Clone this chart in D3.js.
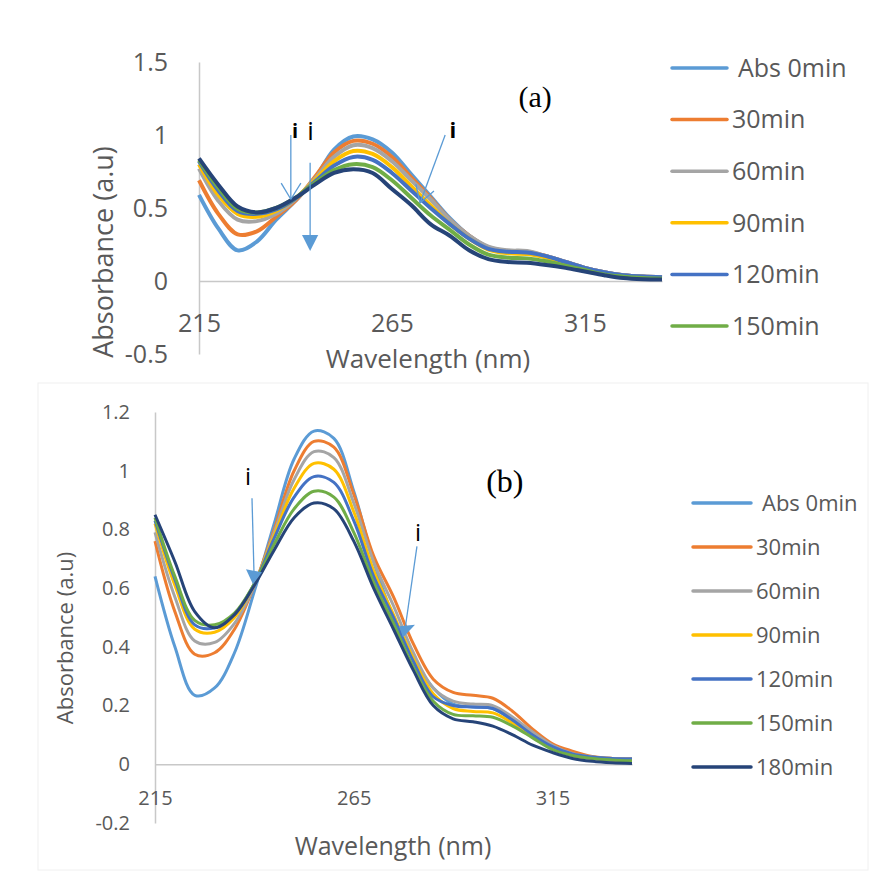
<!DOCTYPE html>
<html>
<head>
<meta charset="utf-8">
<script src="https://cdn.jsdelivr.net/npm/d3@7/dist/d3.min.js"></script>
<style>
  body { margin: 0; background: #fff; }
  svg { display: block; }
  text { font-family: "Open Sans", "DejaVu Sans", sans-serif; }
</style>
</head>
<body>
<div id="chart"></div>
<script>
// ---- data ----
var wavelengths = [215, 220, 225, 230, 235, 240, 245, 250, 255, 260, 265, 270, 275,
                   280, 285, 290, 295, 300, 305, 310, 315, 320, 325, 330, 335];

var seriesNames = ["Abs 0min", "30min", "60min", "90min", "120min", "150min", "180min"];
var seriesColors = ["#5b9bd5", "#ed7d31", "#a5a5a5", "#ffc000", "#4472c4", "#70ad47", "#264478"];

// panel (a)
var a0   = [0.59, 0.36, 0.21, 0.27, 0.42, 0.55, 0.70, 0.90, 0.99, 0.97, 0.88, 0.73, 0.58, 0.43, 0.31, 0.23, 0.20, 0.195, 0.17, 0.13, 0.09, 0.06, 0.04, 0.03, 0.025];
var a30  = [0.69, 0.46, 0.32, 0.34, 0.44, 0.55, 0.71, 0.88, 0.96, 0.94, 0.85, 0.71, 0.57, 0.42, 0.31, 0.23, 0.205, 0.20, 0.17, 0.13, 0.09, 0.06, 0.04, 0.03, 0.025];
var a60  = [0.77, 0.55, 0.42, 0.41, 0.46, 0.56, 0.70, 0.85, 0.93, 0.91, 0.82, 0.69, 0.56, 0.42, 0.31, 0.235, 0.21, 0.205, 0.17, 0.13, 0.09, 0.06, 0.04, 0.03, 0.025];
var a90  = [0.80, 0.59, 0.46, 0.44, 0.48, 0.565, 0.69, 0.82, 0.89, 0.87, 0.78, 0.65, 0.52, 0.39, 0.29, 0.215, 0.19, 0.185, 0.16, 0.12, 0.085, 0.055, 0.035, 0.025, 0.02];
var a120 = [0.82, 0.62, 0.48, 0.46, 0.49, 0.565, 0.68, 0.79, 0.85, 0.83, 0.74, 0.62, 0.50, 0.39, 0.29, 0.22, 0.20, 0.195, 0.17, 0.13, 0.09, 0.06, 0.04, 0.03, 0.025];
var a150 = [0.83, 0.64, 0.495, 0.47, 0.50, 0.57, 0.67, 0.76, 0.80, 0.78, 0.69, 0.57, 0.45, 0.35, 0.25, 0.18, 0.16, 0.155, 0.135, 0.105, 0.075, 0.045, 0.03, 0.02, 0.015];
var a180 = [0.84, 0.66, 0.51, 0.47, 0.50, 0.57, 0.66, 0.74, 0.765, 0.74, 0.63, 0.52, 0.39, 0.31, 0.21, 0.15, 0.13, 0.125, 0.11, 0.09, 0.065, 0.04, 0.02, 0.012, 0.01];

// panel (b)
var b0   = [0.64, 0.40, 0.235, 0.26, 0.38, 0.59, 0.82, 1.04, 1.135, 1.11, 0.93, 0.69, 0.50, 0.36, 0.26, 0.205, 0.195, 0.19, 0.15, 0.10, 0.06, 0.035, 0.025, 0.02, 0.02];
var b30  = [0.76, 0.52, 0.375, 0.38, 0.46, 0.61, 0.80, 1.00, 1.10, 1.08, 0.92, 0.71, 0.57, 0.41, 0.29, 0.245, 0.235, 0.225, 0.18, 0.12, 0.07, 0.045, 0.027, 0.02, 0.018];
var b60  = [0.79, 0.57, 0.42, 0.415, 0.48, 0.61, 0.79, 0.97, 1.065, 1.045, 0.89, 0.69, 0.54, 0.38, 0.26, 0.215, 0.205, 0.20, 0.16, 0.11, 0.065, 0.037, 0.025, 0.02, 0.018];
var b90  = [0.82, 0.61, 0.46, 0.45, 0.50, 0.615, 0.78, 0.94, 1.025, 1.005, 0.86, 0.66, 0.51, 0.36, 0.24, 0.19, 0.18, 0.175, 0.14, 0.095, 0.055, 0.03, 0.02, 0.015, 0.012];
var b120 = [0.83, 0.63, 0.475, 0.465, 0.51, 0.615, 0.77, 0.91, 0.98, 0.96, 0.83, 0.64, 0.50, 0.35, 0.23, 0.20, 0.195, 0.19, 0.15, 0.10, 0.06, 0.035, 0.025, 0.02, 0.018];
var b150 = [0.84, 0.64, 0.49, 0.475, 0.515, 0.615, 0.75, 0.87, 0.93, 0.91, 0.79, 0.62, 0.48, 0.33, 0.215, 0.17, 0.165, 0.16, 0.13, 0.09, 0.05, 0.03, 0.02, 0.015, 0.012];
var b180 = [0.85, 0.69, 0.52, 0.465, 0.51, 0.61, 0.73, 0.84, 0.89, 0.87, 0.76, 0.60, 0.46, 0.32, 0.20, 0.155, 0.145, 0.13, 0.10, 0.065, 0.04, 0.02, 0.01, 0.005, 0.003];

// axis ticks
var xTicks = [215, 265, 315];
var yTicksA = [-0.5, 0, 0.5, 1, 1.5];
var yLabelsA = ["-0.5", "0", "0.5", "1", "1.5"];
var yTicksB = [-0.2, 0, 0.2, 0.4, 0.6, 0.8, 1, 1.2];
var yLabelsB = ["-0.2", "0", "0.2", "0.4", "0.6", "0.8", "1", "1.2"];

// annotation arrows, in data units [nm, absorbance]
var arrowsA = [
  {from: [238.8, 1.0], to: [238.8, 0.56], head: "open", arms: [[236.3, 0.67], [241.4, 0.67]]},
  {from: [243.8, 0.81], to: [243.8, 0.30], head: "fill", tri: [[241.7, 0.315], [245.9, 0.315], [243.8, 0.205]]},
  {from: [278.8, 1.0], to: [272.3, 0.534], head: "open", arms: [[271.2, 0.664], [275.9, 0.616]]}
];
var labelsA = [
  {at: [239.9, 0.98], text: "i", size: 20, weight: "bold"},
  {at: [243.9, 0.966], text: "i", size: 26, weight: "normal"},
  {at: [280.8, 0.98], text: "i", size: 22, weight: "bold"}
];
var arrowsB = [
  {from: [239.4, 0.906], to: [239.9, 0.654], head: "fill", tri: [[237.9, 0.664], [241.9, 0.654], [239.65, 0.613]]},
  {from: [280.9, 0.742], to: [277.9, 0.46], head: "fill", tri: [[276.4, 0.47], [280.4, 0.475], [277.4, 0.432]]}
];
var labelsB = [
  {at: [238.4, 0.95], text: "i", size: 24, weight: "normal"},
  {at: [281.2, 0.76], text: "i", size: 24, weight: "normal"}
];

var seriesA = [a0, a30, a60, a90, a120, a150, a180];
var seriesB = [b0, b30, b60, b90, b120, b150, b180];

// ---- drawing ----
var svg = d3.select("#chart").append("svg")
  .attr("width", 880)
  .attr("height", 888);

// faint frame round panel (b)
svg.append("rect")
  .attr("x", 38).attr("y", 383)
  .attr("width", 830).attr("height", 487)
  .attr("fill", "none")
  .attr("stroke", "#f0f0f0");

function drawPanel(o) {
  var g = svg.append("g");

  var x = d3.scaleLinear().domain([215, 335]).range([o.x0, o.x1]);
  var y = d3.scaleLinear().domain([o.yTicks[0], o.yTicks[o.yTicks.length - 1]]).range([o.yb, o.yt]);

  // y axis
  var yAxis = g.append("g")
    .attr("transform", "translate(" + o.x0 + ",0)")
    .call(d3.axisLeft(y)
      .tickValues(o.yTicks)
      .tickFormat(function (d, i) { return o.yLabels[i]; })
      .tickSize(0)
      .tickPadding(o.yPad));

  // x axis on the zero line
  var xAxis = g.append("g")
    .attr("transform", "translate(0," + y(0) + ")")
    .call(d3.axisBottom(x)
      .tickValues(xTicks)
      .tickFormat(function (d) { return String(d); })
      .tickSize(0)
      .tickPadding(o.xPad));

  [yAxis, xAxis].forEach(function (ax) {
    ax.select(".domain").attr("stroke", "#c8c8c8").attr("stroke-width", 1.5);
    ax.selectAll("text")
      .style("font-family", "'Open Sans', sans-serif")
      .style("font-size", o.tickSize + "px")
      .attr("fill", "#595959");
  });

  // spectra
  var line = d3.line()
    .x(function (d, i) { return x(wavelengths[i]); })
    .y(function (d) { return y(d); })
    .curve(d3.curveCatmullRom.alpha(0.5));

  g.selectAll(".spec")
    .data(o.series)
    .enter()
    .append("path")
    .attr("d", line)
    .attr("fill", "none")
    .attr("stroke", function (d, i) { return seriesColors[i]; })
    .attr("stroke-width", o.lineW)
    .attr("stroke-linejoin", "round");

  // arrows
  o.arrows.forEach(function (a) {
    g.append("line")
      .attr("x1", x(a.from[0])).attr("y1", y(a.from[1]))
      .attr("x2", x(a.to[0])).attr("y2", y(a.to[1]))
      .attr("stroke", "#5b9bd5").attr("stroke-width", 1.3);
    if (a.head == "open") {
      a.arms.forEach(function (p) {
        g.append("line")
          .attr("x1", x(p[0])).attr("y1", y(p[1]))
          .attr("x2", x(a.to[0])).attr("y2", y(a.to[1]))
          .attr("stroke", "#5b9bd5").attr("stroke-width", 1.3);
      });
    } else {
      g.append("path")
        .attr("d", "M" + a.tri.map(function (p) { return x(p[0]) + "," + y(p[1]); }).join("L") + "Z")
        .attr("fill", "#5b9bd5");
    }
  });

  o.labels.forEach(function (l) {
    g.append("text")
      .attr("x", x(l.at[0])).attr("y", y(l.at[1]))
      .attr("text-anchor", "middle")
      .style("font-size", l.size + "px")
      .style("font-weight", l.weight)
      .attr("fill", "#000")
      .text(l.text);
  });

  // panel tag
  g.append("text")
    .attr("x", x(o.tag.at[0])).attr("y", y(o.tag.at[1]))
    .attr("text-anchor", "middle")
    .style("font-family", "'Liberation Serif', 'Times New Roman', serif")
    .style("font-size", o.tag.size + "px")
    .attr("fill", "#000")
    .text(o.tag.text);

  // axis titles
  g.append("text")
    .attr("x", o.xTitle[0]).attr("y", o.xTitle[1])
    .attr("text-anchor", "middle")
    .style("font-size", o.xTitleSize + "px")
    .attr("fill", "#595959")
    .text("Wavelength (nm)");

  g.append("text")
    .attr("transform", "translate(" + o.yTitle[0] + "," + o.yTitle[1] + ") rotate(-90)")
    .attr("text-anchor", "middle")
    .style("font-size", o.yTitleSize + "px")
    .attr("fill", "#595959")
    .text("Absorbance (a.u)");

  // legend
  var leg = g.selectAll(".leg")
    .data(o.legendNames)
    .enter()
    .append("g")
    .attr("transform", function (d, i) { return "translate(" + o.legX + "," + (o.legY + i * o.legStep) + ")"; });

  leg.append("line")
    .attr("x1", 0).attr("x2", o.legLen)
    .attr("stroke", function (d, i) { return seriesColors[i]; })
    .attr("stroke-width", o.legW)
    .attr("stroke-linecap", "round");

  leg.append("text")
    .attr("x", function (d, i) { return o.legLen + (i == 0 ? 11 : 5); })
    .attr("dy", "0.35em")
    .style("font-size", o.legSize + "px")
    .attr("fill", "#595959")
    .text(function (d) { return d; });
}

drawPanel({
  x0: 199, x1: 662, yb: 354, yt: 62,
  yTicks: yTicksA, yLabels: yLabelsA, yPad: 31, xPad: 33,
  tickSize: 25, xTitleSize: 26, yTitleSize: 27, lineW: 4,
  series: seriesA,
  arrows: arrowsA, labels: labelsA,
  tag: {at: [302.1, 1.19], text: "(a)", size: 30},
  xTitle: [428, 368], yTitle: [113, 252],
  legendNames: seriesNames.slice(0, 6),
  legX: 672, legY: 68, legStep: 51.6, legLen: 55, legW: 3.5, legSize: 25
});

drawPanel({
  x0: 155, x1: 632, yb: 823, yt: 412,
  yTicks: yTicksB, yLabels: yLabelsB, yPad: 25, xPad: 27,
  tickSize: 20, xTitleSize: 25, yTitleSize: 22, lineW: 3,
  series: seriesB,
  arrows: arrowsB, labels: labelsB,
  tag: {at: [303, 0.926], text: "(b)", size: 32},
  xTitle: [393, 855], yTitle: [73, 638],
  legendNames: seriesNames,
  legX: 693, legY: 503, legStep: 44, legLen: 58, legW: 3.5, legSize: 22
});
</script>
</body>
</html>
